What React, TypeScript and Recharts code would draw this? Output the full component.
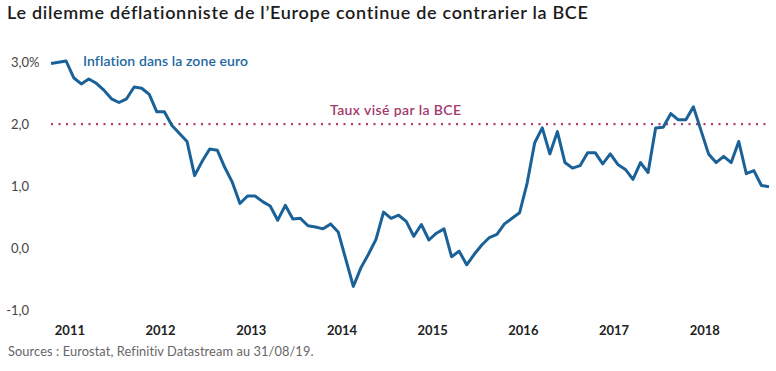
import { LineChart, Line, XAxis, YAxis, ReferenceLine } from 'recharts';

// Monthly euro-area inflation (%)
const inflation = [
  2.98, 3.0, 3.02, 2.75, 2.65, 2.73, 2.66, 2.55, 2.41, 2.35, 2.41, 2.6,
  2.58, 2.48, 2.2, 2.2, 1.98, 1.85, 1.72, 1.17, 1.4, 1.6, 1.58, 1.3,
  1.06, 0.72, 0.84, 0.84, 0.75, 0.68, 0.45, 0.69, 0.47, 0.48, 0.36, 0.34,
  0.31, 0.39, 0.26, -0.18, -0.62, -0.32, -0.1, 0.14, 0.58, 0.48, 0.53, 0.43,
  0.19, 0.38, 0.13, 0.24, 0.31, -0.14, -0.05, -0.27, -0.1, 0.05, 0.17, 0.22,
  0.39, 0.48, 0.57, 1.05, 1.7, 1.94, 1.52, 1.88, 1.38, 1.29, 1.33, 1.54,
  1.54, 1.36, 1.52, 1.35, 1.27, 1.11, 1.38, 1.22, 1.94, 1.95, 2.17, 2.07,
  2.07, 2.28, 1.9, 1.52, 1.38, 1.48, 1.38, 1.72, 1.2, 1.25, 1.01, 0.99,
];
const yearLabels = ['2011', '2012', '2013', '2014', '2015', '2016', '2017', '2018'];
const yTicks = [-1, 0, 1, 2, 3];
const target = 2;

const data = inflation.map((v, i) => ({ t: i, v }));
const yearTicks = yearLabels.map((_, k) => 2.5 + 12 * k);

const FONT = 'Lato, "Noto Sans", sans-serif';

const YTick = (props: any) => {
  const { y, payload } = props;
  const label = payload.value.toFixed(1).replace('.', ',');
  return (
    <g>
      <text x={29} y={y} dy={4.5} textAnchor="end" fontSize={13} fill="#444" fontFamily={FONT}>
        {label}
      </text>
      {payload.value === 3 && (
        <text x={29} y={y} dy={4.5} textAnchor="start" fontSize={13} fill="#444" fontFamily={FONT}>
          %
        </text>
      )}
    </g>
  );
};

const XTick = (props: any) => {
  const { x, payload } = props;
  const k = yearTicks.indexOf(payload.value);
  return (
    <text x={x} y={335} textAnchor="middle" fontSize={13} fontWeight={700} fill="#222" fontFamily={FONT}>
      {yearLabels[k]}
    </text>
  );
};

export default function App() {
  return (
    <div style={{ position: 'fixed', left: 0, top: 0, width: 776, height: 371, background: '#fff', fontFamily: FONT }}>
      <div style={{ position: 'absolute', left: 7, top: 1, fontSize: 18, letterSpacing: 0.7, fontWeight: 600, color: '#1c1c1c', whiteSpace: 'nowrap' }}>
        Le dilemme déflationniste de l’Europe continue de contrarier la BCE
      </div>
      <LineChart width={776} height={371} data={data} margin={{ top: 61, right: 7, bottom: 31, left: 0 }}>
        <XAxis
          dataKey="t"
          type="number"
          domain={[0, inflation.length - 1]}
          ticks={yearTicks}
          tick={<XTick />}
          axisLine={false}
          tickLine={false}
          height={30}
          interval={0}
        />
        <YAxis
          type="number"
          domain={[-1, 3]}
          ticks={yTicks}
          tick={<YTick />}
          axisLine={false}
          tickLine={false}
          width={51}
        />
        <ReferenceLine y={target} stroke="#b0396f" strokeWidth={2.2} strokeDasharray="2 5.5" />
        <Line
          type="linear"
          dataKey="v"
          stroke="#1a6198"
          strokeWidth={3}
          dot={false}
          strokeLinejoin="round"
          isAnimationActive={false}
        />
      </LineChart>
      <div style={{ position: 'absolute', left: 83, top: 52, fontSize: 14, letterSpacing: 0.1, fontWeight: 600, color: '#1e67a0', whiteSpace: 'nowrap' }}>
        Inflation dans la zone euro
      </div>
      <div style={{ position: 'absolute', left: 330, top: 101, fontSize: 14, letterSpacing: 0.4, fontWeight: 600, color: '#a33a6c', whiteSpace: 'nowrap' }}>
        Taux visé par la BCE
      </div>
      <div style={{ position: 'absolute', left: 8, top: 343, fontSize: 12.8, letterSpacing: 0.1, color: '#666', whiteSpace: 'nowrap' }}>
        Sources : Eurostat, Refinitiv Datastream au 31/08/19.
      </div>
    </div>
  );
}
